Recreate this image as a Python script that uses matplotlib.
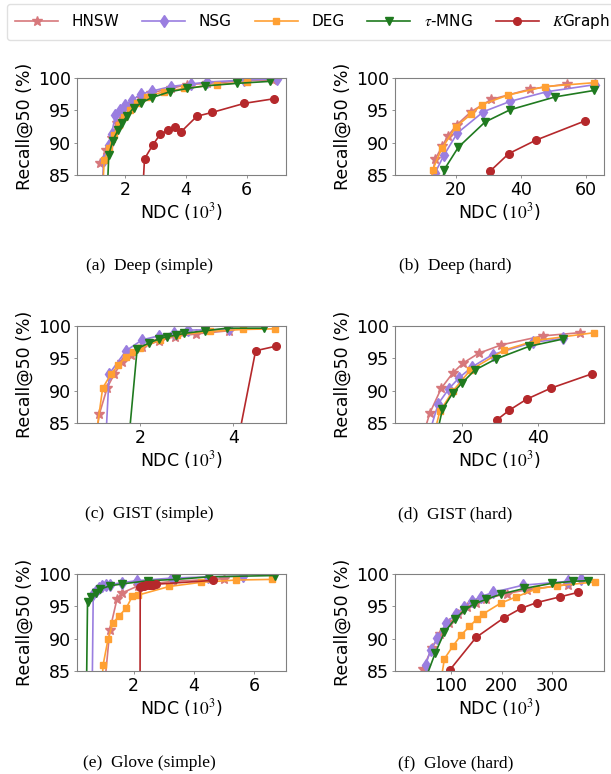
import matplotlib
matplotlib.use("Agg")
import matplotlib.pyplot as plt

plt.rcParams['font.family'] = ['DejaVu Sans']
plt.rcParams['mathtext.fontset'] = 'stix'

methods = ["HNSW", "NSG", "DEG", r"$\tau$-MNG", r"$K$Graph"]

# ---- (a) Deep (simple), NDC in 10^3 ----
a_hnsw_x = [1.17, 1.37, 1.54, 1.73, 1.89, 2.17, 2.50, 2.83, 3.49, 4.04, 4.70, 6.00, 6.88]
a_hnsw_y = [86.8, 88.9, 90.8, 93.0, 94.4, 95.9, 96.9, 97.7, 98.4, 99.0, 99.2, 99.6, 99.7]
a_nsg_x = [1.22, 1.28, 1.45, 1.54, 1.67, 1.83, 2.00, 2.22, 2.50, 2.88, 3.49, 4.15, 4.70, 5.91, 7.00]
a_nsg_y = [82.0, 87.3, 89.6, 91.3, 94.3, 95.1, 95.9, 96.6, 97.5, 98.0, 98.7, 99.1, 99.4, 99.7, 99.9]
a_deg_x = [1.25, 1.30, 1.45, 1.61, 1.78, 1.95, 2.14, 2.39, 2.72, 3.26, 3.92, 5.02, 6.00]
a_deg_y = [83.0, 87.3, 89.1, 91.2, 92.7, 94.0, 95.1, 96.1, 97.1, 97.9, 98.4, 99.0, 99.4]
a_mng_x = [1.38, 1.45, 1.58, 1.75, 1.89, 2.06, 2.27, 2.53, 2.88, 3.47, 4.04, 4.64, 5.69, 6.76]
a_mng_y = [80.0, 88.1, 90.3, 91.9, 93.1, 94.2, 95.4, 96.2, 97.0, 97.9, 98.4, 98.8, 99.2, 99.5]
a_kg_x = [2.52, 2.63, 2.91, 3.15, 3.40, 3.62, 3.84, 4.36, 4.87, 5.93, 6.89]
a_kg_y = [78.0, 87.5, 89.7, 91.3, 91.9, 92.4, 91.7, 94.1, 94.7, 96.1, 96.8]

# ---- (b) Deep (hard) ----
b_hnsw_x = [12.5, 13.5, 15.8, 17.4, 20.3, 24.6, 30.8, 42.8, 54.1]
b_hnsw_y = [84.0, 87.4, 89.5, 91.0, 92.8, 94.8, 96.7, 98.3, 99.1]
b_nsg_x = [12.8, 13.5, 16.3, 20.4, 28.4, 36.6, 47.9, 62.8]
b_nsg_y = [82.0, 85.3, 88.1, 91.5, 94.8, 96.4, 97.9, 99.0]
b_deg_x = [12.2, 12.8, 15.6, 20.0, 24.6, 27.9, 36.1, 47.4, 62.5]
b_deg_y = [82.0, 85.8, 89.1, 92.5, 94.4, 95.9, 97.4, 98.7, 99.3]
b_mng_x = [15.5, 16.3, 20.7, 28.9, 36.6, 50.5, 62.5]
b_mng_y = [82.0, 85.8, 89.3, 93.2, 95.1, 97.1, 98.1]
b_kg_x = [29.0, 30.5, 36.2, 44.6, 59.8]
b_kg_y = [83.0, 85.6, 88.3, 90.4, 93.4]

# ---- (c) GIST (simple) ----
c_hnsw_x = [1.00, 1.13, 1.30, 1.45, 1.62, 1.80, 2.05, 2.40, 2.75, 3.20, 3.90]
c_hnsw_y = [80.0, 86.4, 90.5, 92.6, 94.5, 95.6, 96.8, 97.7, 98.4, 98.8, 99.3]
c_nsg_x = [1.25, 1.34, 1.70, 2.05, 2.40, 2.72, 3.02, 3.90]
c_nsg_y = [80.0, 92.6, 96.2, 97.9, 98.5, 99.0, 99.4, 99.5]
c_deg_x = [1.06, 1.20, 1.38, 1.54, 1.70, 1.85, 2.01, 2.43, 2.79, 3.50, 4.20, 4.89]
c_deg_y = [83.0, 90.4, 92.6, 94.0, 95.2, 96.0, 96.6, 97.9, 98.6, 99.2, 99.5, 99.6]
c_mng_x = [1.73, 1.94, 2.19, 2.40, 2.58, 2.78, 2.95, 3.40, 3.86, 4.67]
c_mng_y = [80.0, 96.5, 97.4, 98.0, 98.4, 98.6, 98.9, 99.3, 99.7, 99.7]
c_kg_x = [4.04, 4.48, 4.91]
c_kg_y = [80.0, 96.2, 96.9]

# ---- (d) GIST (hard) ----
d_hnsw_x = [10.0, 11.4, 14.4, 17.5, 20.2, 24.3, 30.3, 41.3, 51.2]
d_hnsw_y = [84.0, 86.6, 90.4, 92.8, 94.3, 95.8, 97.1, 98.5, 99.0]
d_nsg_x = [11.5, 13.6, 16.4, 19.1, 22.6, 28.0, 38.7, 46.6]
d_nsg_y = [84.0, 88.0, 90.3, 92.0, 93.7, 95.6, 97.5, 98.1]
d_deg_x = [12.8, 14.0, 17.4, 22.1, 31.1, 39.6, 55.0]
d_deg_y = [84.0, 86.8, 89.9, 93.2, 96.3, 97.8, 99.0]
d_mng_x = [13.5, 14.7, 17.4, 19.9, 23.3, 28.8, 37.8, 46.6]
d_mng_y = [84.0, 87.1, 89.6, 91.2, 93.2, 94.9, 96.9, 98.0]
d_kg_x = [28.5, 29.2, 32.5, 37.1, 43.5, 54.3]
d_kg_y = [83.0, 85.5, 87.0, 88.7, 90.4, 92.6]

# ---- (e) Glove (simple) ----
e_hnsw_x = [0.98, 1.21, 1.45, 1.62, 2.15, 2.50, 3.30, 5.00]
e_hnsw_y = [80.0, 91.3, 96.2, 97.1, 98.2, 98.5, 98.9, 99.3]
e_nsg_x = [0.62, 0.66, 0.74, 0.85, 0.96, 1.07, 1.23, 1.62, 2.11, 3.26, 4.47, 5.62]
e_nsg_y = [80.0, 97.0, 97.4, 97.8, 98.1, 98.3, 98.4, 98.7, 99.0, 99.4, 99.6, 99.7]
e_deg_x = [0.93, 0.99, 1.15, 1.31, 1.53, 1.75, 1.96, 2.14, 3.18, 4.25, 5.40, 6.60]
e_deg_y = [82.0, 86.0, 89.9, 92.4, 93.6, 94.7, 96.6, 96.75, 98.1, 98.75, 99.1, 99.2]
e_mng_x = [0.43, 0.47, 0.58, 0.74, 0.90, 1.21, 1.62, 2.49, 3.42, 4.50, 6.69]
e_mng_y = [80.0, 95.7, 96.4, 97.1, 97.7, 98.2, 98.5, 99.0, 99.2, 99.6, 99.8]
e_kg_x = [2.21, 2.22, 2.28, 2.35, 2.42, 2.50, 2.58, 2.66, 2.75, 4.65]
e_kg_y = [70.0, 98.0, 98.15, 98.2, 98.3, 98.3, 98.4, 98.4, 98.45, 99.05]

# ---- (f) Glove (hard) ----
f_hnsw_x = [45, 64, 80, 97, 115, 132, 150, 170, 210, 250, 330]
f_hnsw_y = [85.3, 88.6, 90.7, 92.4, 93.8, 94.9, 95.6, 96.2, 97.0, 97.6, 98.4]
f_nsg_x = [51, 61, 74, 92, 110, 127, 142, 159, 184, 242, 330, 356]
f_nsg_y = [85.9, 88.3, 90.1, 92.5, 93.8, 94.9, 95.8, 96.5, 97.2, 98.3, 98.9, 99.3]
f_deg_x = [78, 88, 105, 121, 137, 151, 164, 198, 229, 268, 308, 383]
f_deg_y = [82.0, 86.9, 88.9, 90.6, 91.9, 93.0, 93.85, 95.5, 96.5, 97.7, 98.2, 98.8]
f_mng_x = [52, 70, 88, 108, 127, 146, 170, 198, 245, 300, 340, 370]
f_mng_y = [84.0, 87.8, 91.0, 93.0, 94.4, 95.4, 96.1, 96.9, 97.8, 98.6, 98.9, 99.0]
f_kg_x = [90, 99, 150, 204, 238, 269, 315, 351]
f_kg_y = [80.0, 85.2, 90.2, 93.2, 94.7, 95.6, 96.5, 97.2]

captions = ["(a)  Deep (simple)", "(b)  Deep (hard)", "(c)  GIST (simple)",
            "(d)  GIST (hard)", "(e)  Glove (simple)", "(f)  Glove (hard)"]
xlims = [(0.4, 7.3), (1.2, 65.5), (0.65, 5.13), (2.1, 57.6), (0.12, 7.06), (-9, 401)]
xticks = [[2, 4, 6], [20, 40, 60], [2, 4], [20, 40], [2, 4, 6], [100, 200, 300]]

panels = [
    [(a_hnsw_x, a_hnsw_y), (a_nsg_x, a_nsg_y), (a_deg_x, a_deg_y), (a_mng_x, a_mng_y), (a_kg_x, a_kg_y)],
    [(b_hnsw_x, b_hnsw_y), (b_nsg_x, b_nsg_y), (b_deg_x, b_deg_y), (b_mng_x, b_mng_y), (b_kg_x, b_kg_y)],
    [(c_hnsw_x, c_hnsw_y), (c_nsg_x, c_nsg_y), (c_deg_x, c_deg_y), (c_mng_x, c_mng_y), (c_kg_x, c_kg_y)],
    [(d_hnsw_x, d_hnsw_y), (d_nsg_x, d_nsg_y), (d_deg_x, d_deg_y), (d_mng_x, d_mng_y), (d_kg_x, d_kg_y)],
    [(e_hnsw_x, e_hnsw_y), (e_nsg_x, e_nsg_y), (e_deg_x, e_deg_y), (e_mng_x, e_mng_y), (e_kg_x, e_kg_y)],
    [(f_hnsw_x, f_hnsw_y), (f_nsg_x, f_nsg_y), (f_deg_x, f_deg_y), (f_mng_x, f_mng_y), (f_kg_x, f_kg_y)],
]

colors = ['#d7787c', '#9a7ee0', '#ffa033', '#1f7a1f', '#b5282b']
markers = ['*', 'd', 's', 'v', 'o']
msizes = [7, 6, 5, 5.5, 5.5]

fig = plt.figure(figsize=(6.11, 7.74), dpi=100)

lefts = [0.126, 0.6465]
bottoms = [0.774, 0.4535, 0.1331]
w, h = 0.342, 0.125
cap_x = [0.245, 0.745]
cap_y = [1 - 266 / 774, 1 - 514 / 774, 1 - 763 / 774]

lines = []
for i in range(6):
    r, c = i // 2, i % 2
    ax = fig.add_axes([lefts[c], bottoms[r], w, h])
    for k in range(5):
        xs, ys = panels[i][k]
        ln, = ax.plot(xs, ys, color=colors[k], marker=markers[k], markersize=msizes[k],
                      linewidth=1.2, label=methods[k])
        if i == 0:
            lines.append(ln)
    ax.set_xlim(*xlims[i])
    ax.set_ylim(85, 100)
    ax.set_xticks(xticks[i])
    ax.set_yticks([85, 90, 95, 100])
    ax.tick_params(labelsize=12.5, length=2.5, width=0.6, color='0.5', pad=2)
    for s in ax.spines.values():
        s.set_color('0.5')
        s.set_linewidth(0.8)
    ax.set_ylabel("Recall@50 (%)", fontsize=12.5, labelpad=3)
    ax.set_xlabel(r"NDC ($10^3$)", fontsize=12.5, labelpad=1)
    fig.text(cap_x[c], cap_y[r], captions[i], ha='center', va='center',
             fontsize=12.5, family='Liberation Serif')

fig.legend(lines, methods, loc='upper left', bbox_to_anchor=(0.006, 0.999), ncol=5,
           fontsize=11, handlelength=2.8, columnspacing=1.5, handletextpad=0.9,
           frameon=True, edgecolor='0.85', fancybox=True, borderpad=0.55,
           borderaxespad=0.2)

fig.savefig("out.png", dpi=100)
